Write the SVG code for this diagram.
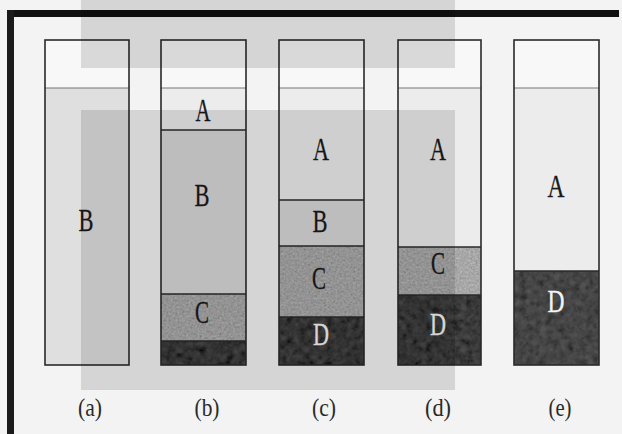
<svg xmlns="http://www.w3.org/2000/svg" width="622" height="434" viewBox="0 0 622 434">
<defs>
<style>
.top{fill:#f8f8f8}
.la{fill:#ececec}
.lb{fill:#d8d8d8}
.lc{fill:#a8a8a8}
.ld{fill:#3a3a3a}
.sep{stroke:#2a2a2a;stroke-width:1.6}
.sepl{stroke:#777;stroke-width:1}
.box{fill:none;stroke:#2a2a2a;stroke-width:1.6}
.t{font-family:"Liberation Serif","DejaVu Serif",serif;font-size:31px;text-anchor:middle;fill:#1a1a1a;stroke:#1a1a1a;stroke-width:0.3}
.tw{fill:#f4f4f4;stroke:#f4f4f4}
.cap{font-family:"Liberation Serif","DejaVu Serif",serif;font-size:25px;text-anchor:middle;fill:#2a2a2a}
.ov{fill:#000;fill-opacity:0.12}
</style>
<filter id="grain" x="0" y="0" width="1" height="1">
<feTurbulence type="fractalNoise" baseFrequency="0.45" numOctaves="2" seed="4" result="n"/>
<feColorMatrix in="n" type="matrix" values="0.33 0.33 0.33 0 0 0.33 0.33 0.33 0 0 0.33 0.33 0.33 0 0 0 0 0 0 1" result="g"/>
<feComposite in="SourceGraphic" in2="g" operator="arithmetic" k1="0" k2="1" k3="0.5" k4="-0.25" result="m"/>
<feComposite in="m" in2="SourceGraphic" operator="in"/>
</filter>
<filter id="mottle" x="0" y="0" width="1" height="1">
<feTurbulence type="fractalNoise" baseFrequency="0.15" numOctaves="3" seed="7" result="n"/>
<feColorMatrix in="n" type="matrix" values="0.33 0.33 0.33 0 0 0.33 0.33 0.33 0 0 0.33 0.33 0.33 0 0 0 0 0 0 1" result="g"/>
<feComposite in="SourceGraphic" in2="g" operator="arithmetic" k1="0" k2="1" k3="0.16" k4="-0.08" result="m"/>
<feComposite in="m" in2="SourceGraphic" operator="in"/>
</filter>
</defs>
<rect x="0" y="0" width="622" height="434" fill="#f3f3f3"/>
<rect x="7" y="10" width="612" height="7" fill="#111"/>
<rect x="7" y="10" width="7" height="424" fill="#1a1a1a"/>

<g id="col-a">
<rect class="top" x="45" y="40" width="84" height="48"/>
<rect class="lb" x="45" y="88" width="84" height="277" style="fill:#dfdfdf"/>
<line class="sepl" x1="45" y1="88" x2="129" y2="88"/>
<rect class="box" x="45" y="40" width="84" height="325"/>
<text class="t" x="86" y="231" textLength="15" lengthAdjust="spacingAndGlyphs">B</text>
<text class="cap" x="90" y="416" textLength="24" lengthAdjust="spacingAndGlyphs">(a)</text>
</g>

<g id="col-b">
<rect class="top" x="161" y="40" width="85" height="48"/>
<rect class="la" x="161" y="88" width="85" height="42"/>
<rect class="lb" x="161" y="130" width="85" height="164"/>
<rect class="lc" x="161" y="294" width="85" height="47" filter="url(#grain)"/>
<rect class="ld" x="161" y="341" width="85" height="24" filter="url(#mottle)"/>
<line class="sepl" x1="161" y1="88" x2="246" y2="88"/>
<line class="sep" x1="161" y1="130" x2="246" y2="130"/>
<line class="sep" x1="161" y1="294" x2="246" y2="294"/>
<line class="sep" x1="161" y1="341" x2="246" y2="341"/>
<rect class="box" x="161" y="40" width="85" height="325"/>
<text class="t" x="203" y="121" textLength="15" lengthAdjust="spacingAndGlyphs">A</text>
<text class="t" x="202" y="206" textLength="15" lengthAdjust="spacingAndGlyphs">B</text>
<text class="t" x="202" y="323" textLength="14" lengthAdjust="spacingAndGlyphs">C</text>
<text class="cap" x="207" y="416" textLength="25" lengthAdjust="spacingAndGlyphs">(b)</text>
</g>

<g id="col-c">
<rect class="top" x="279" y="40" width="85" height="48"/>
<rect class="la" x="279" y="88" width="85" height="112"/>
<rect class="lb" x="279" y="200" width="85" height="46"/>
<rect class="lc" x="279" y="246" width="85" height="71" filter="url(#grain)"/>
<rect class="ld" x="279" y="317" width="85" height="48" filter="url(#mottle)"/>
<line class="sepl" x1="279" y1="88" x2="364" y2="88"/>
<line class="sep" x1="279" y1="200" x2="364" y2="200"/>
<line class="sep" x1="279" y1="246" x2="364" y2="246"/>
<line class="sep" x1="279" y1="317" x2="364" y2="317"/>
<rect class="box" x="279" y="40" width="85" height="325"/>
<text class="t" x="321" y="160" textLength="16" lengthAdjust="spacingAndGlyphs">A</text>
<text class="t" x="320" y="232" textLength="15" lengthAdjust="spacingAndGlyphs">B</text>
<text class="t" x="319" y="289" textLength="14" lengthAdjust="spacingAndGlyphs">C</text>
<text class="t tw" x="321" y="345" textLength="16" lengthAdjust="spacingAndGlyphs">D</text>
<text class="cap" x="324" y="416" textLength="24" lengthAdjust="spacingAndGlyphs">(c)</text>
</g>

<g id="col-d">
<rect class="top" x="398" y="40" width="83" height="48"/>
<rect class="la" x="398" y="88" width="83" height="159"/>
<rect class="lc" x="398" y="247" width="83" height="48" filter="url(#grain)"/>
<rect class="ld" x="398" y="295" width="83" height="70" filter="url(#mottle)"/>
<line class="sepl" x1="398" y1="88" x2="481" y2="88"/>
<line class="sep" x1="398" y1="247" x2="481" y2="247"/>
<line class="sep" x1="398" y1="295" x2="481" y2="295"/>
<rect class="box" x="398" y="40" width="83" height="325"/>
<text class="t" x="438" y="160" textLength="16" lengthAdjust="spacingAndGlyphs">A</text>
<text class="t" x="438" y="274" textLength="14" lengthAdjust="spacingAndGlyphs">C</text>
<text class="t tw" x="438" y="335" textLength="16" lengthAdjust="spacingAndGlyphs">D</text>
<text class="cap" x="438" y="416" textLength="26" lengthAdjust="spacingAndGlyphs">(d)</text>
</g>

<g id="col-e">
<rect class="top" x="514" y="40" width="85" height="48"/>
<rect class="la" x="514" y="88" width="85" height="183"/>
<rect class="ld" x="514" y="271" width="85" height="94" filter="url(#mottle)" style="fill:#454545"/>
<line class="sepl" x1="514" y1="88" x2="599" y2="88"/>
<line class="sep" x1="514" y1="271" x2="599" y2="271"/>
<rect class="box" x="514" y="40" width="85" height="325"/>
<text class="t" x="556" y="197" textLength="17" lengthAdjust="spacingAndGlyphs">A</text>
<text class="t tw" x="556" y="312" textLength="17" lengthAdjust="spacingAndGlyphs">D</text>
<text class="cap" x="560" y="416" textLength="23" lengthAdjust="spacingAndGlyphs">(e)</text>
</g>

<rect class="ov" x="81" y="0" width="374" height="68"/>
<rect class="ov" x="81" y="110" width="374" height="280"/>
</svg>
